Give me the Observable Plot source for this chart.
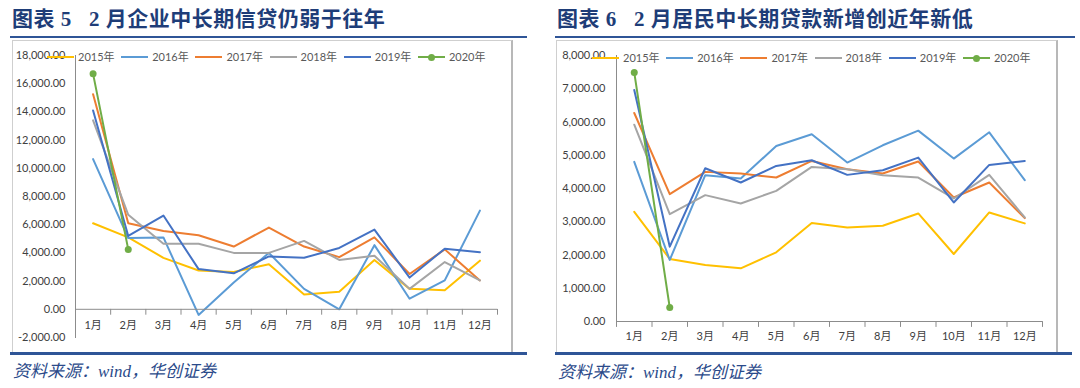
<!DOCTYPE html>
<html><head><meta charset="utf-8">
<script src="https://cdn.jsdelivr.net/npm/d3@7"></script>
<script src="https://cdn.jsdelivr.net/npm/@observablehq/plot@0.6"></script>
<style>
body{margin:0;width:1080px;height:388px;background:#fff;position:relative;overflow:hidden;font-family:Lato,"Noto Sans CJK SC",sans-serif;}
.title{position:absolute;top:5px;font-family:"Liberation Serif","Noto Sans CJK SC",serif;font-weight:700;font-size:21px;color:#1e3d78;white-space:pre;letter-spacing:0.5px;line-height:28px}
.rule{position:absolute;height:2px;background:#2f5597}
.brule{position:absolute;height:3px;background:#2f5597}
.box{position:absolute;border:1px solid #cfcfcf;border-right:2px solid #b8b8b8;box-sizing:border-box;background:#fff}
.chart{position:absolute}
.legend{position:absolute;height:14px;display:flex;font-size:11px;color:#595959;line-height:14px}
.item{position:relative;width:74.2px;display:flex;align-items:center}
.sw{width:27px;height:2px;margin-right:4px;position:relative}
.sw i{position:absolute;left:10px;top:-2.5px;width:7px;height:7px;border-radius:50%}
.src{position:absolute;font-family:"Liberation Serif","Noto Sans CJK SC",serif;font-style:italic;font-size:17px;line-height:22px;color:#2b4a8a;white-space:pre}
</style></head>
<body>
<div class="title" style="left:12px">图表 5   2 月企业中长期信贷仍弱于往年</div>
<div class="rule" style="left:10px;top:36px;width:517px"></div>
<div class="box" style="left:12px;top:40px;width:501px;height:313px"></div>
<div class="brule" style="left:10px;top:352px;width:517px"></div>
<div class="src" style="left:13px;top:361px">资料来源：wind，华创证券</div>
<div class="chart" id="c1" style="left:12px;top:40px"></div>
<div class="chart" id="a1" style="left:12px;top:40px"></div>
<div class="legend" id="l1" style="left:47px;top:50px"></div>

<div class="title" style="left:557px">图表 6   2 月居民中长期贷款新增创近年新低</div>
<div class="rule" style="left:555px;top:36px;width:520px"></div>
<div class="box" style="left:556px;top:40px;width:502px;height:313px"></div>
<div class="brule" style="left:555px;top:352px;width:517px"></div>
<div class="src" style="left:558px;top:362px">资料来源：wind，华创证券</div>
<div class="chart" id="c2" style="left:556px;top:40px"></div>
<div class="chart" id="a2" style="left:556px;top:40px"></div>
<div class="legend" id="l2" style="left:592px;top:51px"></div>

<script>
const months = ["1月","2月","3月","4月","5月","6月","7月","8月","9月","10月","11月","12月"];
const years = ["2015年","2016年","2017年","2018年","2019年","2020年"];
const colors = ["#FFC000","#5B9BD5","#ED7D31","#A5A5A5","#4472C4","#70AD47"];

// 图表5 企业中长期信贷
const ent2015 = [6100,5100,3650,2750,2650,3200,1050,1250,3500,1450,1350,3450];
const ent2016 = [10650,5050,5100,-400,1900,4000,1450,0,4550,750,2050,7000];
const ent2017 = [15250,6100,5550,5250,4450,5800,4450,3700,5100,2500,4250,2050];
const ent2018 = [13400,6700,4650,4650,4000,4000,4850,3500,3800,1450,3350,2050];
const ent2019 = [14100,5200,6650,2850,2550,3750,3650,4350,5650,2250,4300,4050];
const ent2020 = [16700,4250];
const entTicks = [-2000,0,2000,4000,6000,8000,10000,12000,14000,16000,18000];

// 图表6 居民中长期贷款
const hh2015 = [3300,1880,1700,1600,2080,2960,2830,2880,3250,2030,3280,2950];
const hh2016 = [4800,1850,4400,4300,5280,5630,4780,5300,5740,4900,5690,4250];
const hh2017 = [6270,3830,4500,4450,4330,4830,4580,4450,4810,3730,4180,3110];
const hh2018 = [5920,3230,3800,3550,3930,4650,4580,4400,4330,3700,4410,3130];
const hh2019 = [6960,2250,4610,4180,4680,4850,4410,4550,4930,3580,4710,4830];
const hh2020 = [7490,420];
const hhTicks = [0,1000,2000,3000,4000,5000,6000,7000,8000];

const fmt = v => d3.format(",.2f")(v).replace("−","-");
const tickShape = {draw(ctx, l){ ctx.moveTo(0,0); ctx.lineTo(0,-l); }};

function base(ticks, opts){
  return {
    width: opts.width, height: opts.height,
    marginLeft: opts.ml, marginRight: opts.mr, marginTop: opts.mt, marginBottom: opts.mb,
    x: {domain: [0.5, months.length + 0.5], axis: null},
    y: {domain: d3.extent(ticks), axis: null},
    style: {fontFamily: 'Lato, "Noto Sans CJK SC", sans-serif', background: "transparent"}
  };
}

// axes layer
function makeAxes(ticks, opts){
  const bounds = d3.range(0, months.length + 1).map(i => i + 0.5);
  return Plot.plot({
    ...base(ticks, opts),
    marks: [
      Plot.frame({anchor: "left", stroke: "#8c8c8c"}),
      Plot.ruleY([0], {stroke: "#8c8c8c"}),
      Plot.vector(bounds, {x: d => d, y: 0, length: 5, rotate: 180, anchor: "start", shape: tickShape, stroke: "#8c8c8c", strokeWidth: 1}),
      Plot.text(months, {x: (d, i) => i + 1, y: 0, dy: opts.ldy, text: d => d, fontSize: 11, fill: "#404040"}),
      Plot.text(ticks, {y: d => d, frameAnchor: "left", dx: -opts.pad, textAnchor: "end", text: fmt, fontSize: 11, fill: "#404040"})
    ]
  });
}

// data layer
function makeLines(series, ticks, opts){
  const rows = [];
  series.forEach((vals, si) => vals.forEach((v, i) => rows.push({m: i + 1, year: years[si], v})));
  return Plot.plot({
    ...base(ticks, opts),
    color: {domain: years, range: colors},
    marks: [
      Plot.line(rows, {x: "m", y: "v", z: "year", stroke: "year", strokeWidth: 2}),
      Plot.dot(rows.filter(r => r.year === years[5]), {x: "m", y: "v", fill: "year", r: 3.5})
    ]
  });
}

const o1 = {width: 500, height: 312, ml: 63, mr: 15, mt: 15, mb: 15, pad: 10, ldy: 16};
const o2 = {width: 501, height: 312, ml: 60, mr: 15, mt: 15, mb: 31, pad: 11, ldy: 15};
document.getElementById("a1").append(makeAxes(entTicks, o1));
document.getElementById("c1").append(makeLines([ent2015,ent2016,ent2017,ent2018,ent2019,ent2020], entTicks, o1));
document.getElementById("a2").append(makeAxes(hhTicks, o2));
document.getElementById("c2").append(makeLines([hh2015,hh2016,hh2017,hh2018,hh2019,hh2020], hhTicks, o2));

function legend(id){
  const el = document.getElementById(id);
  years.forEach((y, i) => {
    const it = document.createElement("div"); it.className = "item";
    const sw = document.createElement("div"); sw.className = "sw"; sw.style.background = colors[i];
    if (i === 5) { const dot = document.createElement("i"); dot.style.background = colors[i]; sw.append(dot); }
    const t = document.createElement("span"); t.textContent = y;
    it.append(sw, t); el.append(it);
  });
}
legend("l1"); legend("l2");
</script>
</body></html>
